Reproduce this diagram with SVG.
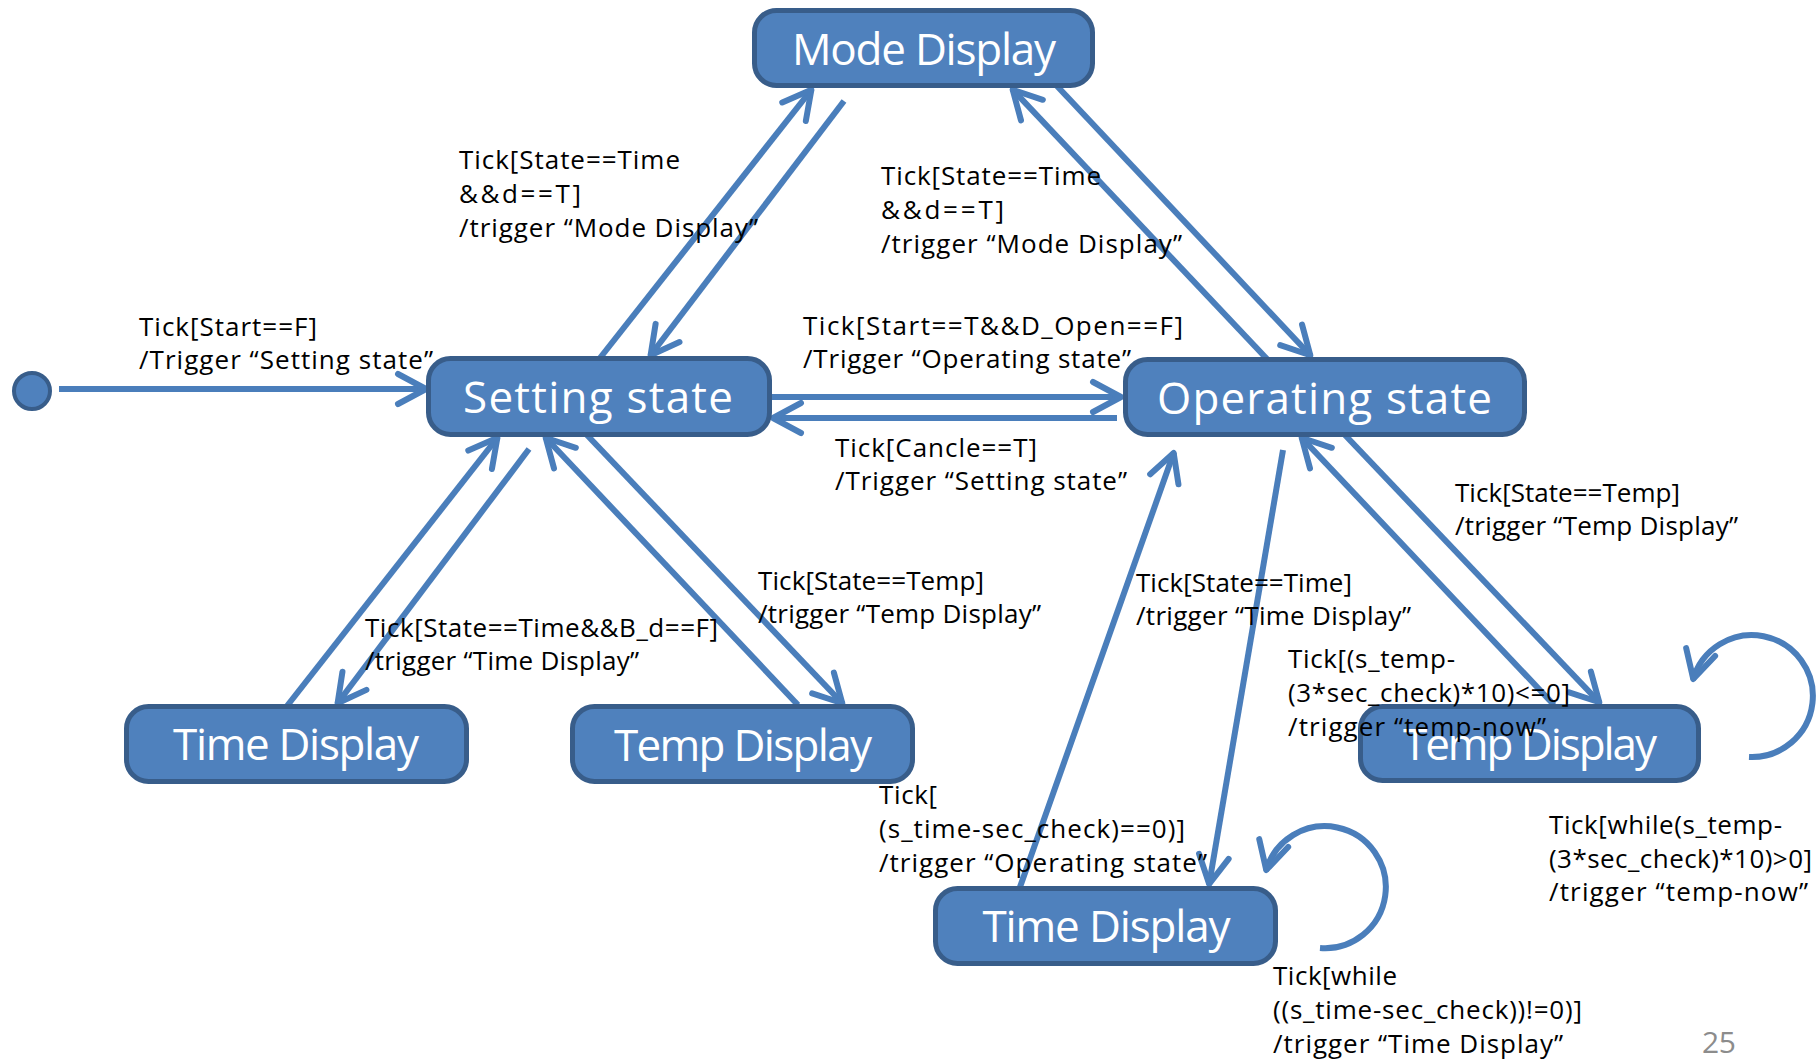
<svg xmlns="http://www.w3.org/2000/svg" width="1818" height="1059" viewBox="0 0 1818 1059">
<style>
.node rect{fill:#4F81BD;stroke:#385D8A;stroke-width:5}
.node text{fill:#FFFFFF;font-family:"Open Sans","Noto Sans",sans-serif;font-size:44px;text-anchor:middle}
.conn line,.conn path{stroke:#4A7EBB;stroke-width:6;fill:none}
.lbl{fill:#000000;font-family:"Open Sans","Noto Sans",sans-serif;font-size:26px}
.pg{fill:#8C8C8C;font-family:"Open Sans","Noto Sans",sans-serif;font-size:30px}
</style>
<defs>
<marker id="ah" markerUnits="userSpaceOnUse" viewBox="-40 -30 60 60" markerWidth="60" markerHeight="60" refX="1" refY="0" orient="auto" overflow="visible">
<path d="M -28 -15 L 0 0 L -28 15" fill="none" stroke="#4A7EBB" stroke-width="6" stroke-linecap="round" stroke-linejoin="round"/>
</marker>
</defs>
<rect width="1818" height="1059" fill="#FFFFFF"/>
<g id="connectors" class="conn">
<line x1="59" y1="389" x2="427" y2="389" marker-end="url(#ah)"/>
<line x1="600" y1="358" x2="812" y2="89" marker-end="url(#ah)"/>
<line x1="844" y1="101" x2="650" y2="356" marker-end="url(#ah)"/>
<line x1="1267" y1="359" x2="1012" y2="89" marker-end="url(#ah)"/>
<line x1="1057" y1="86" x2="1311" y2="356" marker-end="url(#ah)"/>
<line x1="771" y1="397" x2="1122" y2="397" marker-end="url(#ah)"/>
<line x1="1117" y1="418" x2="772" y2="418" marker-end="url(#ah)"/>
<line x1="529" y1="449" x2="337" y2="704" marker-end="url(#ah)"/>
<line x1="287" y1="706" x2="498" y2="437" marker-end="url(#ah)"/>
<line x1="798" y1="705" x2="545" y2="437" marker-end="url(#ah)"/>
<line x1="587" y1="435" x2="843" y2="704" marker-end="url(#ah)"/>
<line x1="1020" y1="887" x2="1174" y2="452" marker-end="url(#ah)"/>
<line x1="1283" y1="450" x2="1209" y2="885" marker-end="url(#ah)"/>
<line x1="1554" y1="705" x2="1301" y2="437" marker-end="url(#ah)"/>
<line x1="1345" y1="435" x2="1600" y2="703" marker-end="url(#ah)"/>
<path d="M 1749 757 A 61 61 0 1 0 1693 680" marker-end="url(#ah)"/>
<path d="M 1320 948 A 61 61 0 1 0 1266 871" marker-end="url(#ah)"/>
</g>
<g id="initial"><circle cx="32" cy="391" r="18" fill="#4F81BD" stroke="#385D8A" stroke-width="4"/></g>
<g id="mode-display" class="node"><rect x="754.5" y="10.5" width="338" height="75" rx="22"/><text x="924" y="65" textLength="264">Mode Display</text></g>
<g id="setting-state" class="node"><rect x="428.5" y="358.5" width="341" height="76" rx="22"/><text x="598" y="413" textLength="270">Setting state</text></g>
<g id="operating-state" class="node"><rect x="1125.5" y="359.5" width="399" height="75" rx="22"/><text x="1324.5" y="414" textLength="335">Operating state</text></g>
<g id="time-display-left" class="node"><rect x="126.5" y="706.5" width="340" height="75" rx="22"/><text x="296" y="760" textLength="246">Time Display</text></g>
<g id="temp-display-mid" class="node"><rect x="572.5" y="706.5" width="340" height="75" rx="22"/><text x="743" y="761" textLength="258">Temp Display</text></g>
<g id="temp-display-right" class="node"><rect x="1360.5" y="706.5" width="338" height="74" rx="22"/><text x="1530" y="760" textLength="254">Temp Display</text></g>
<g id="time-display-bottom" class="node"><rect x="935.5" y="888.5" width="340" height="75" rx="22"/><text x="1106.5" y="942" textLength="248">Time Display</text></g>
<g id="labels">
<text class="lbl" x="139" y="336" textLength="178">Tick[Start==F]</text>
<text class="lbl" x="139" y="369" textLength="294">/Trigger “Setting state”</text>
<text class="lbl" x="459" y="169" textLength="221">Tick[State==Time</text>
<text class="lbl" x="459" y="203" textLength="122">&amp;&amp;d==T]</text>
<text class="lbl" x="459" y="237" textLength="299">/trigger “Mode Display”</text>
<text class="lbl" x="881" y="185" textLength="220">Tick[State==Time</text>
<text class="lbl" x="881" y="219" textLength="123">&amp;&amp;d==T]</text>
<text class="lbl" x="881" y="253" textLength="301">/trigger “Mode Display”</text>
<text class="lbl" x="803" y="335" textLength="380">Tick[Start==T&amp;&amp;D_Open==F]</text>
<text class="lbl" x="803" y="368" textLength="328">/Trigger “Operating state”</text>
<text class="lbl" x="835" y="457" textLength="202">Tick[Cancle==T]</text>
<text class="lbl" x="835" y="490" textLength="292">/Trigger “Setting state”</text>
<text class="lbl" x="758" y="590" textLength="226">Tick[State==Temp]</text>
<text class="lbl" x="758" y="623" textLength="283">/trigger “Temp Display”</text>
<text class="lbl" x="365" y="637" textLength="353">Tick[State==Time&amp;&amp;B_d==F]</text>
<text class="lbl" x="365" y="670" textLength="274">/trigger “Time Display”</text>
<text class="lbl" x="1455" y="502" textLength="225">Tick[State==Temp]</text>
<text class="lbl" x="1455" y="535" textLength="283">/trigger “Temp Display”</text>
<text class="lbl" x="1136" y="592" textLength="216">Tick[State==Time]</text>
<text class="lbl" x="1136" y="625" textLength="275">/trigger “Time Display”</text>
<text class="lbl" x="1288" y="668" textLength="167">Tick[(s_temp-</text>
<text class="lbl" x="1288" y="702" textLength="282">(3*sec_check)*10)&lt;=0]</text>
<text class="lbl" x="1288" y="736" textLength="258">/trigger “temp-now”</text>
<text class="lbl" x="879" y="804" textLength="58">Tick[</text>
<text class="lbl" x="879" y="838" textLength="306">(s_time-sec_check)==0)]</text>
<text class="lbl" x="879" y="872" textLength="328">/trigger “Operating state”</text>
<text class="lbl" x="1549" y="834" textLength="233">Tick[while(s_temp-</text>
<text class="lbl" x="1549" y="868" textLength="263">(3*sec_check)*10)&gt;0]</text>
<text class="lbl" x="1549" y="901" textLength="259">/trigger “temp-now”</text>
<text class="lbl" x="1273" y="985" textLength="124">Tick[while</text>
<text class="lbl" x="1273" y="1019" textLength="309">((s_time-sec_check))!=0)]</text>
<text class="lbl" x="1273" y="1053" textLength="290">/trigger “Time Display”</text>
<text class="pg" x="1702" y="1053" textLength="34">25</text>
</g>
</svg>
